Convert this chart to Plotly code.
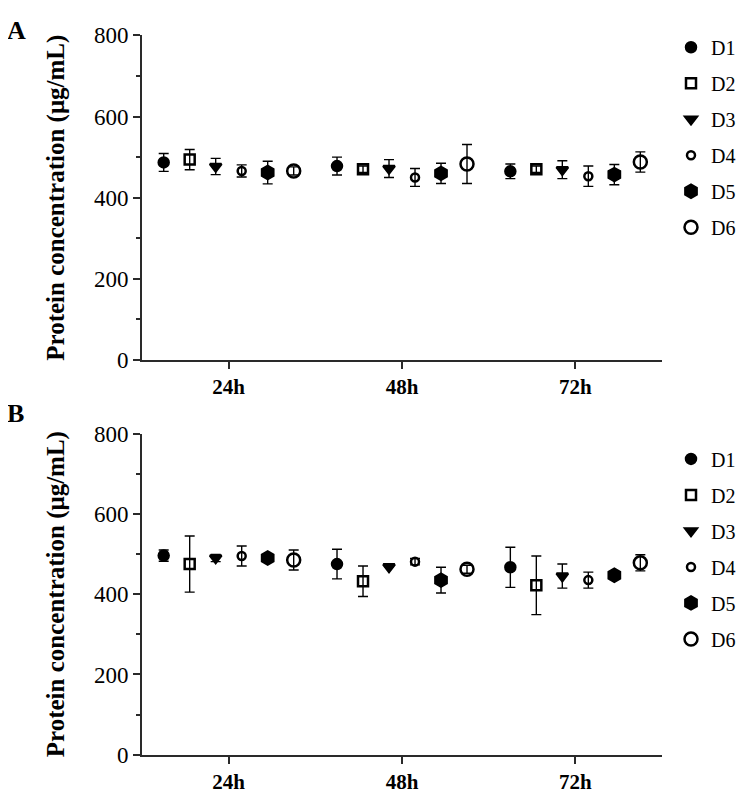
import plotly.graph_objects as go

times = ["24h", "48h", "72h"]
donors = ["D1", "D2", "D3", "D4", "D5", "D6"]
y_ticks = [0, 200, 400, 600, 800]

# rows = donors D1..D6, columns = 24h, 48h, 72h
panel_a_mean = [[487, 478, 465], [494, 470, 470], [477, 472, 469],
                [466, 450, 453], [462, 460, 457], [466, 483, 488]]
panel_a_err = [[22, 22, 18], [25, 8, 8], [20, 22, 22],
               [15, 22, 25], [28, 25, 25], [10, 48, 25]]
panel_b_mean = [[496, 475, 467], [475, 432, 422], [490, 468, 445],
                [495, 481, 435], [490, 435, 447], [485, 462, 478]]
panel_b_err = [[14, 37, 50], [70, 38, 73], [9, 0, 30],
               [25, 8, 20], [6, 32, 6], [25, 10, 20]]

symbols = ["circle", "square-open", "triangle-down", "circle-open", "hexagon", "circle-open"]
sizes = [10, 10, 10, 8, 13, 13]
FONT = "Liberation Serif"

fig = go.Figure()

def add_panel(means, errs, xa, ya, legend, tag):
    for d, name in enumerate(donors):
        offset = (d - 2.5) * 0.15
        xs = [i + 1 + offset for i in range(len(times))]
        fig.add_trace(go.Scatter(
            x=xs, y=means[d], mode="markers", name=name,
            xaxis=xa, yaxis=ya, legend=legend, legendgroup=tag + name,
            marker=dict(symbol=symbols[d], size=sizes[d], color="black",
                        line=dict(color="black", width=2.5)),
            error_y=dict(type="data", array=errs[d], visible=True,
                         color="black", thickness=1.4, width=5),
        ))

add_panel(panel_a_mean, panel_a_err, "x", "y", "legend", "A")
add_panel(panel_b_mean, panel_b_err, "x2", "y2", "legend2", "B")

xdom = [0.1787, 0.872]
axis_x = dict(range=[0.5, 3.5], tickvals=[1, 2, 3], ticktext=times,
              showline=True, linecolor="#2a2a2a", linewidth=2, ticks="outside",
              ticklen=7, tickwidth=2, tickcolor="#2a2a2a", showgrid=False, zeroline=False,
              tickfont=dict(family=FONT, size=21, color="black", weight="bold"),
              domain=xdom)
axis_y = dict(range=[0, 800], tickvals=y_ticks, showline=True, linecolor="#2a2a2a",
              linewidth=2, ticks="outside", ticklen=7, tickwidth=2, tickcolor="#2a2a2a",
              showgrid=False, zeroline=False,
              tickfont=dict(family=FONT, size=23, color="black"),
              minor=dict(ticks="outside", ticklen=4, tickwidth=2, tickcolor="#2a2a2a",
                         dtick=100, showgrid=False),
              title=dict(text="Protein concentration (μg/mL)", standoff=22,
                         font=dict(family=FONT, size=25, color="black", weight="bold")))

legend_style = dict(font=dict(family=FONT, size=20, color="black"),
                    xanchor="left", yanchor="top", tracegroupgap=7,
                    bgcolor="rgba(0,0,0,0)", itemwidth=30)

fig.update_layout(
    width=750, height=796, margin=dict(l=0, r=0, t=0, b=0),
    paper_bgcolor="white", plot_bgcolor="white",
    xaxis=dict(axis_x, anchor="y"),
    yaxis=dict(axis_y, domain=[0.559, 0.980], anchor="x"),
    xaxis2=dict(axis_x, anchor="y2"),
    yaxis2=dict(axis_y, domain=[0.047, 0.4636], anchor="x2"),
    legend=dict(legend_style, x=0.884, y=0.99),
    legend2=dict(legend_style, x=0.884, y=0.456),
    annotations=[
        dict(text="<b>A</b>", x=0.0, y=1.0, xref="paper", yref="paper",
             xanchor="left", yanchor="top", showarrow=False, yshift=6, xshift=-3,
             font=dict(family=FONT, size=26, color="black")),
        dict(text="<b>B</b>", x=0.0, y=0.5, xref="paper", yref="paper",
             xanchor="left", yanchor="top", showarrow=False, yshift=9, xshift=-3,
             font=dict(family=FONT, size=26, color="black")),
    ],
    showlegend=True,
)

fig.write_html("out.html")
